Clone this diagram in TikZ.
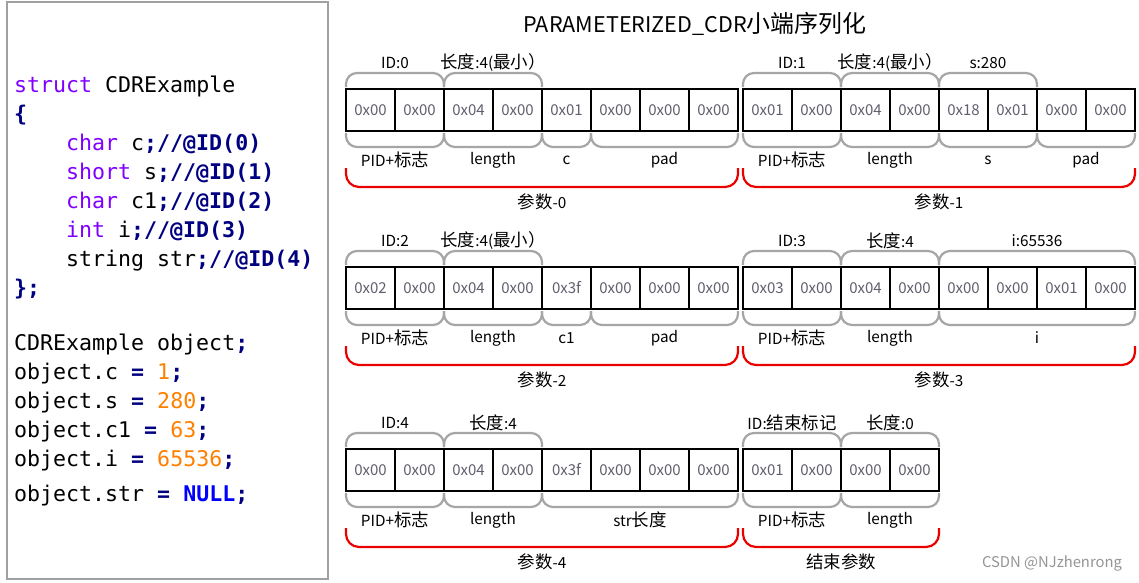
\documentclass[tikz,border=0pt]{standalone}
\usepackage{fontspec}
\setmainfont{Noto Sans CJK SC}
\newfontfamily\cjkf{Noto Sans CJK SC}[Scale=1.14]
\newfontfamily\codefont{DejaVu Sans Mono}
\usetikzlibrary{calc}
\definecolor{kwc}{RGB}{128,0,255}
\definecolor{nvc}{RGB}{0,0,128}
\definecolor{orc}{RGB}{255,128,0}
\definecolor{blc}{RGB}{0,0,255}
\definecolor{cellc}{RGB}{96,96,110}
\definecolor{brc}{RGB}{166,166,166}
\definecolor{redc}{RGB}{235,0,0}
\definecolor{panelc}{RGB}{160,160,160}
\newcommand\kw[1]{\textcolor{kwc}{#1}}
\newcommand\nv[1]{\textcolor{nvc}{\bfseries #1}}
\newcommand\nm[1]{\textcolor{orc}{#1}}
\newcommand\cj[1]{{\cjkf #1}}
\newcommand\celrow[4]{%
  \foreach \v [count=\i from 0] in {#4} {
    \node[cell] (#1\i) at ({#2+49*\i+24.5},{#3+21}) {\v};
  }}
\newcommand\topbr[4]{%
  \draw[gb] ($(#1#2.north west)+(0,-2)$) -- ($(#1#2.north west)+(0,-16)$) -- ($(#1#3.north east)+(0,-16)$) -- ($(#1#3.north east)+(0,-2)$);
  \node[lbl] (#1t#2) at ($(#1#2.north west)!0.5!(#1#3.north east)+(0,-26)$) {#4};}
\newcommand\botbr[4]{%
  \draw[gb] ($(#1#2.south west)+(0,2)$) -- ($(#1#2.south west)+(0,16)$) -- ($(#1#3.south east)+(0,16)$) -- ($(#1#3.south east)+(0,2)$);
  \node[lbl] (#1b#2) at ($(#1#2.south west)!0.5!(#1#3.south east)+(0,29)$) {#4};}
\newcommand\redbr[4]{%
  \draw[rb] ($(#1#2.south west)+(0,37)$) -- ($(#1#2.south west)+(0,56)$) -- ($(#1#3.south east)+(0,56)$) -- ($(#1#3.south east)+(0,37)$);
  \node[lbl] (#1r) at ($(#1#2.south west)!0.5!(#1#3.south east)+(0,71)$) {#4};}
\begin{document}
\begin{tikzpicture}[x=1pt,y=-1pt,
  cell/.style={draw=black,line width=2.4pt,minimum width=49pt,minimum height=42pt,inner sep=0pt,outer sep=0pt,text=cellc,font=\fontsize{15}{18}\selectfont},
  gb/.style={draw=brc,line width=2.2pt,rounded corners=11pt},
  rb/.style={draw=redc,line width=2.2pt,rounded corners=13pt},
  lbl/.style={inner sep=0pt,font=\fontsize{15.3}{18}\selectfont},
  code/.style={anchor=base west,inner sep=0pt,font=\codefont\fontsize{21.6}{26}\selectfont}]
\useasboundingbox (0,0) rectangle (1139,582);
\fill[white] (0,0) rectangle (1139,582);
% left panel
\node[draw=panelc,line width=2pt,minimum width=321pt,minimum height=577pt,inner sep=0pt] (panel) at (167.5,290.5) {};
\node[code] (l1) at (14,92) {\kw{struct} CDRExample};
\node[code] (l2) at (14,121) {\nv{\{}};
\node[code] (l3) at (66,150) {\kw{char} c\nv{;//@ID(0)}};
\node[code] (l4) at (66,179) {\kw{short} s\nv{;//@ID(1)}};
\node[code] (l5) at (66,208) {\kw{char} c1\nv{;//@ID(2)}};
\node[code] (l6) at (66,237) {\kw{int} i\nv{;//@ID(3)}};
\node[code] (l7) at (66,266) {string str\nv{;//@ID(4)}};
\node[code] (l8) at (14,295) {\nv{\};}};
\node[code] (l9) at (14,350) {CDRExample object\nv{;}};
\node[code] (l10) at (14,379) {object.c \nv{=} \nm{1}\nv{;}};
\node[code] (l11) at (14,408) {object.s \nv{=} \nm{280}\nv{;}};
\node[code] (l12) at (14,437) {object.c1 \nv{=} \nm{63}\nv{;}};
\node[code] (l13) at (14,466) {object.i \nv{=} \nm{65536}\nv{;}};
\node[code] (l14) at (14,501) {object.str \nv{=} \textcolor{blc}{\bfseries NULL}\nv{;}};
% title
\node[inner sep=0pt,font=\fontsize{21.6}{26}\selectfont] (title) at (695,24) {PARAMETERIZED\_CDR{\fontsize{21}{26}\cjkf 小端序列化}};
% row 1
\celrow{pa}{346}{89}{0x00,0x00,0x04,0x00,0x01,0x00,0x00,0x00}
\topbr{pa}{0}{1}{ID:0}
\topbr{pa}{2}{3}{\cj{长度}:4(\cj{最小）}}
\botbr{pa}{0}{1}{PID+\cj{标志}}
\botbr{pa}{2}{3}{length}
\botbr{pa}{4}{4}{c}
\botbr{pa}{5}{7}{pad}
\redbr{pa}{0}{7}{\cj{参数}-0}
\celrow{pb}{743}{89}{0x01,0x00,0x04,0x00,0x18,0x01,0x00,0x00}
\topbr{pb}{0}{1}{ID:1}
\topbr{pb}{2}{3}{\cj{长度}:4(\cj{最小）}}
\topbr{pb}{4}{5}{s:280}
\botbr{pb}{0}{1}{PID+\cj{标志}}
\botbr{pb}{2}{3}{length}
\botbr{pb}{4}{5}{s}
\botbr{pb}{6}{7}{pad}
\redbr{pb}{0}{7}{\cj{参数}-1}
% row 2
\celrow{pc}{346}{267}{0x02,0x00,0x04,0x00,0x3f,0x00,0x00,0x00}
\topbr{pc}{0}{1}{ID:2}
\topbr{pc}{2}{3}{\cj{长度}:4(\cj{最小）}}
\botbr{pc}{0}{1}{PID+\cj{标志}}
\botbr{pc}{2}{3}{length}
\botbr{pc}{4}{4}{c1}
\botbr{pc}{5}{7}{pad}
\redbr{pc}{0}{7}{\cj{参数}-2}
\celrow{pd}{743}{267}{0x03,0x00,0x04,0x00,0x00,0x00,0x01,0x00}
\topbr{pd}{0}{1}{ID:3}
\topbr{pd}{2}{3}{\cj{长度}:4}
\topbr{pd}{4}{7}{i:65536}
\botbr{pd}{0}{1}{PID+\cj{标志}}
\botbr{pd}{2}{3}{length}
\botbr{pd}{4}{7}{i}
\redbr{pd}{0}{7}{\cj{参数}-3}
% row 3
\celrow{pe}{346}{449}{0x00,0x00,0x04,0x00,0x3f,0x00,0x00,0x00}
\topbr{pe}{0}{1}{ID:4}
\topbr{pe}{2}{3}{\cj{长度}:4}
\botbr{pe}{0}{1}{PID+\cj{标志}}
\botbr{pe}{2}{3}{length}
\botbr{pe}{4}{7}{str\cj{长度}}
\redbr{pe}{0}{7}{\cj{参数}-4}
\celrow{pf}{743}{449}{0x01,0x00,0x00,0x00}
\topbr{pf}{0}{1}{ID:\cj{结束标记}}
\topbr{pf}{2}{3}{\cj{长度}:0}
\botbr{pf}{0}{1}{PID+\cj{标志}}
\botbr{pf}{2}{3}{length}
\redbr{pf}{0}{3}{\cj{结束参数}}
% watermark
\node[inner sep=0pt,text=brc!90!black,font=\fontsize{14.8}{17}\selectfont] (wm) at (1052,563) {CSDN @NJzhenrong};
\end{tikzpicture}
\end{document}
